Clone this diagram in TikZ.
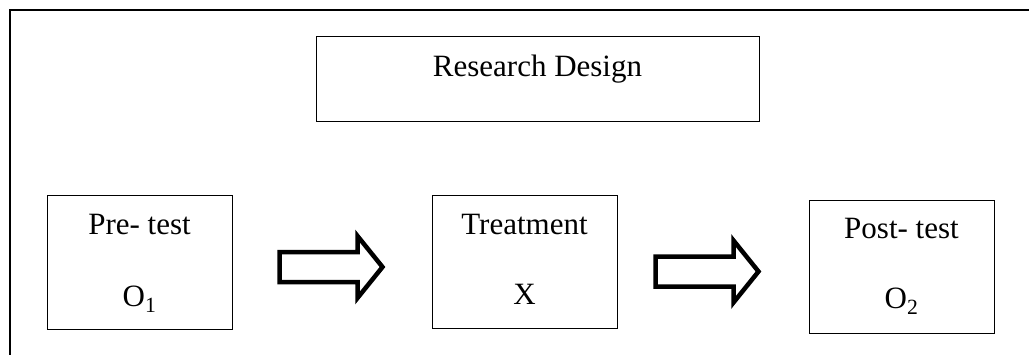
\documentclass[tikz,border=0pt]{standalone}
\usepackage{fontspec}
\setmainfont{Liberation Serif}
\usetikzlibrary{positioning, calc}

\begin{document}
\begin{tikzpicture}[x=1pt, y=-1pt]
    % --- Style Definitions ---
    \tikzset{
        frame style/.style={
            draw=black,
            line width=2pt
        },
        box style/.style={
            draw=black,
            line width=1pt,
            inner sep=0pt
        },
        step box/.style={
            box style,
            minimum width=185pt,
            minimum height=133pt
        },
        label text/.style={
            font=\fontsize{31}{37}\selectfont,
            color=black,
            inner sep=0pt,
            anchor=base
        },
        block arrow/.style={
            draw=black,
            line width=4.5pt,
            fill=white
        },
        fat arrow/.pic={
            \draw[block arrow] (0,-15) -- (78,-15) -- (78,-31) -- (103,0)
                -- (78,31) -- (78,15) -- (0,15) -- cycle;
        }
    }

    \useasboundingbox (0,0) rectangle (1029,354);

    % --- 1. Outer frame (runs off the page) ---
    \draw[frame style] (10,400) -- (10,10) -- (1100,10);

    % --- 2. Title box ---
    \node[box style, minimum width=443pt, minimum height=85pt] (design) at (537.5,78.5) {};
    \node[label text] (design title) at ([yshift=-41pt]design.north) {Research Design};

    % --- 3. Step boxes ---
    \node[step box, minimum height=134pt] (pre) at (139.5,262) {};
    \node[step box] (treat) at (524.5,261.5) {};
    \node[step box] (post) at (901.5,266.5) {};

    \node[label text] (pre title) at ([yshift=-40pt]pre.north) {Pre- test};
    \node[label text] (pre obs) at ([yshift=23pt]pre.south) {O\textsubscript{1}};

    \node[label text] (treat title) at ([yshift=-40pt]treat.north) {Treatment};
    \node[label text] (treat obs) at ([yshift=24pt]treat.south) {X};

    \node[label text] (post title) at ([yshift=-39pt]post.north) {Post- test};
    \node[label text] (post obs) at ([yshift=25pt]post.south) {O\textsubscript{2}};

    % --- 4. Block arrows between the steps ---
    \pic at ([xshift=47pt, yshift=-5pt]pre.east) {fat arrow};
    \pic at ([xshift=38pt, yshift=-10pt]treat.east) {fat arrow};

\end{tikzpicture}
\end{document}
